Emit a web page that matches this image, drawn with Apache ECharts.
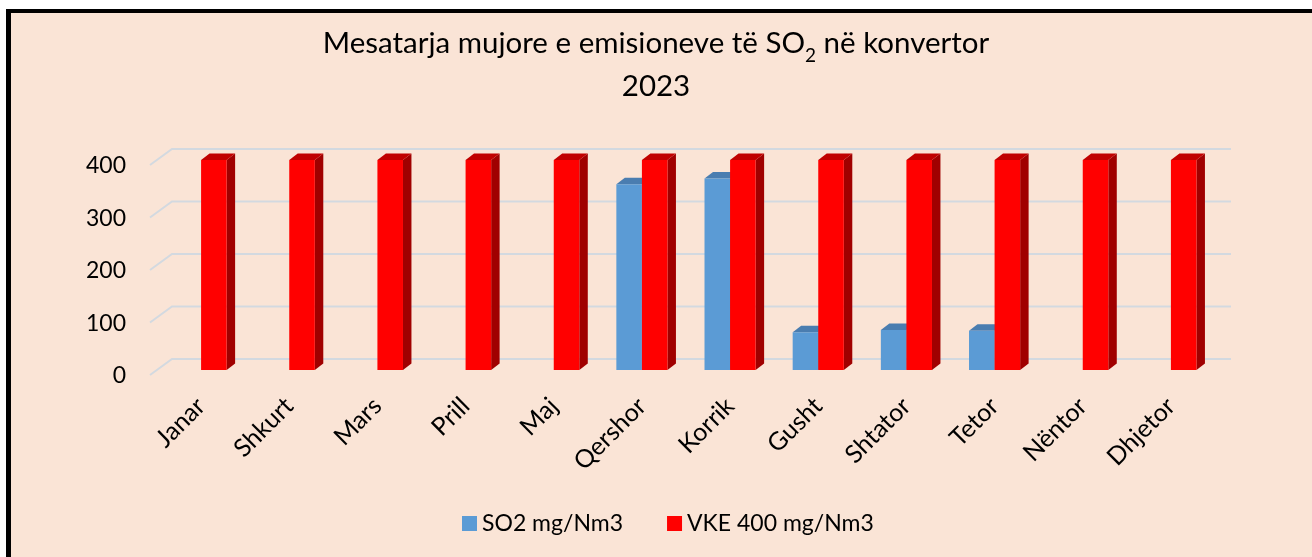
<!DOCTYPE html>
<html>
<head>
<meta charset="utf-8">
<script src="https://cdn.jsdelivr.net/npm/echarts@6/dist/echarts.min.js"></script>
<style>
  html, body { margin: 0; padding: 0; background: #fff; }
  .frame {
    position: absolute; left: 6px; top: 9px; width: 1320px; height: 560px;
    border-left: 5px solid #000; border-top: 4px solid #000;
    background: #fae4d6;
  }
  #chart { position: absolute; left: 0; top: 0; width: 1312px; height: 557px; }
</style>
</head>
<body>
<div class="frame"></div>
<div id="chart"></div>
<script>
const categories = ['Janar', 'Shkurt', 'Mars', 'Prill', 'Maj', 'Qershor', 'Korrik', 'Gusht', 'Shtator', 'Tetor', 'Nëntor', 'Dhjetor'];
const so2Values = [null, null, null, null, null, 354, 365, 72, 76, 75, null, null];
const vkeValues = [400, 400, 400, 400, 400, 400, 400, 400, 400, 400, 400, 400];
const yTicks = [0, 100, 200, 300, 400];

const FONT = 'Lato';

// fake 3D column: front face, darker side, top cap
function barRenderer(colors, side) {
  return function (params, api) {
    const v = api.value(1);
    if (v == null || isNaN(v)) return null;
    const top = api.coord([api.value(0), v]);
    const base = api.coord([api.value(0), 0]);
    const band = api.size([1, 0])[0];
    const w = band * 0.29, dx = band * 0.096, dy = 6.5;
    const x0 = side < 0 ? top[0] - w : top[0];
    const x1 = x0 + w;
    return {
      type: 'group',
      children: [
        { type: 'polygon', shape: { points: [[x1, top[1]], [x1 + dx, top[1] - dy], [x1 + dx, base[1] - dy], [x1, base[1]]] }, style: { fill: colors.side } },
        { type: 'polygon', shape: { points: [[x0, top[1]], [x0 + dx, top[1] - dy], [x1 + dx, top[1] - dy], [x1, top[1]]] }, style: { fill: colors.top } },
        { type: 'rect', shape: { x: x0, y: top[1], width: w, height: base[1] - top[1] }, style: { fill: colors.front } }
      ]
    };
  };
}

// back wall gridlines with the slanted floor edge
function gridRenderer(params, api) {
  const cs = params.coordSys;
  const y = api.coord([0, api.value(1)])[1];
  return {
    type: 'polyline',
    shape: { points: [[cs.x - 7, y + 5], [cs.x + 15, y - 11], [cs.x + cs.width + 16, y - 11]] },
    style: { stroke: '#d3d9e0', lineWidth: 2, fill: null }
  };
}

const myChart = echarts.init(document.getElementById('chart'));
const option = {
  backgroundColor: 'transparent',
  animation: false,
  title: {
    left: 'center',
    top: 17,
    text: '{a|Mesatarja mujore e emisioneve të SO}{s|2}{a| në konvertor}\n{a|2023}',
    textStyle: {
      fontWeight: 'normal',
      rich: {
        a: { fontFamily: FONT, fontSize: 29.5, fontWeight: 'normal', color: '#000', lineHeight: 43 },
        s: { fontFamily: FONT, fontSize: 19, fontWeight: 'normal', color: '#000', lineHeight: 22, verticalAlign: 'bottom' }
      }
    }
  },
  legend: {
    bottom: 17,
    left: 457,
    itemWidth: 15,
    itemHeight: 15,
    itemGap: 44,
    icon: 'rect',
    textStyle: { fontFamily: FONT, fontSize: 23, color: '#000' },
    data: ['SO2 mg/Nm3', 'VKE 400 mg/Nm3']
  },
  grid: { left: 157, right: 97, top: 160, bottom: 187 },
  xAxis: {
    type: 'category',
    data: categories,
    axisLine: { show: false },
    axisTick: { show: false },
    axisLabel: { rotate: 45, margin: 32, fontFamily: FONT, fontSize: 25, color: '#000', interval: 0 }
  },
  yAxis: {
    type: 'value',
    min: 0,
    max: 400,
    interval: 100,
    axisLine: { show: false },
    axisTick: { show: false },
    splitLine: { show: false },
    axisLabel: { margin: 31, verticalAlign: 'top', lineHeight: 12, fontFamily: FONT, fontSize: 23, color: '#000' }
  },
  series: [
    {
      name: 'grid',
      type: 'custom',
      z: 1,
      silent: true,
      renderItem: gridRenderer,
      encode: { x: 0, y: 1 },
      data: yTicks.map(v => [0, v])
    },
    {
      name: 'SO2 mg/Nm3',
      type: 'custom',
      z: 2,
      itemStyle: { color: '#5b9bd5' },
      renderItem: barRenderer({ front: '#5b9bd5', side: '#41719c', top: '#4a7db0' }, -1),
      encode: { x: 0, y: 1 },
      data: so2Values.map((v, i) => [i, v])
    },
    {
      name: 'VKE 400 mg/Nm3',
      type: 'custom',
      z: 2,
      itemStyle: { color: '#ff0000' },
      renderItem: barRenderer({ front: '#ff0000', side: '#a00000', top: '#c00000' }, 1),
      encode: { x: 0, y: 1 },
      data: vkeValues.map((v, i) => [i, v])
    }
  ]
};
myChart.setOption(option);
</script>
</body>
</html>
